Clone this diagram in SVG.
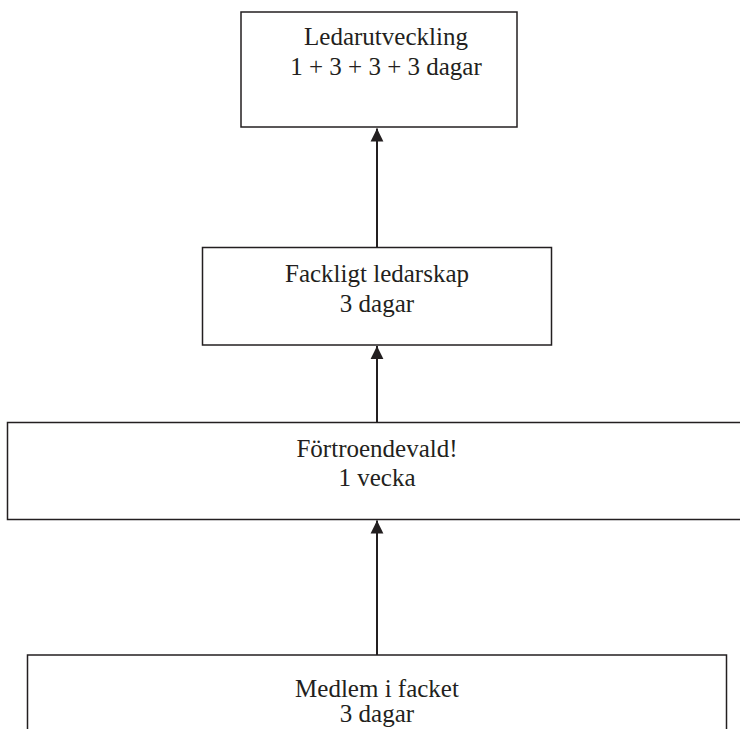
<svg xmlns="http://www.w3.org/2000/svg" width="740" height="729" viewBox="0 0 740 729">
<style>
.box{fill:#fff;stroke:#231f20;stroke-width:1.5}
.t{font-size:25px;fill:#231f20;text-anchor:middle}
.c{stroke:#231f20;stroke-width:2;fill:none}
</style>
<defs>
<marker id="ah" markerUnits="userSpaceOnUse" markerWidth="14" markerHeight="14" viewBox="0 0 14 14" refX="13" refY="7" orient="auto">
<path d="M0,0.6 L13,7 L0,13.4 Z" fill="#231f20"/>
</marker>
</defs>
<rect width="740" height="729" fill="#fff"/>
<g id="connectors">
<line class="c" x1="377" y1="247" x2="377" y2="128.5" marker-end="url(#ah)"/>
<line class="c" x1="377" y1="422.5" x2="377" y2="346" marker-end="url(#ah)"/>
<line class="c" x1="377" y1="655" x2="377" y2="520.5" marker-end="url(#ah)"/>
</g>
<g font-family="Liberation Serif, Times New Roman, DejaVu Serif, serif">
<g id="n1">
<rect class="box" x="241" y="12" width="276" height="115"/>
<text class="t" x="386" y="45">Ledarutveckling</text>
<text class="t" x="386" y="75">1 + 3 + 3 + 3 dagar</text>
</g>
<g id="n2">
<rect class="box" x="202.5" y="247.5" width="349" height="97.5"/>
<text class="t" x="377" y="282">Fackligt ledarskap</text>
<text class="t" x="377" y="312">3 dagar</text>
</g>
<g id="n3">
<rect class="box" x="7.5" y="422.5" width="740" height="97"/>
<text class="t" x="377" y="457">Förtroendevald!</text>
<text class="t" x="377" y="486">1 vecka</text>
</g>
<g id="n4">
<rect class="box" x="27.5" y="655" width="699" height="90"/>
<text class="t" x="377" y="697">Medlem i facket</text>
<text class="t" x="377" y="722">3 dagar</text>
</g>
</g>
</svg>
